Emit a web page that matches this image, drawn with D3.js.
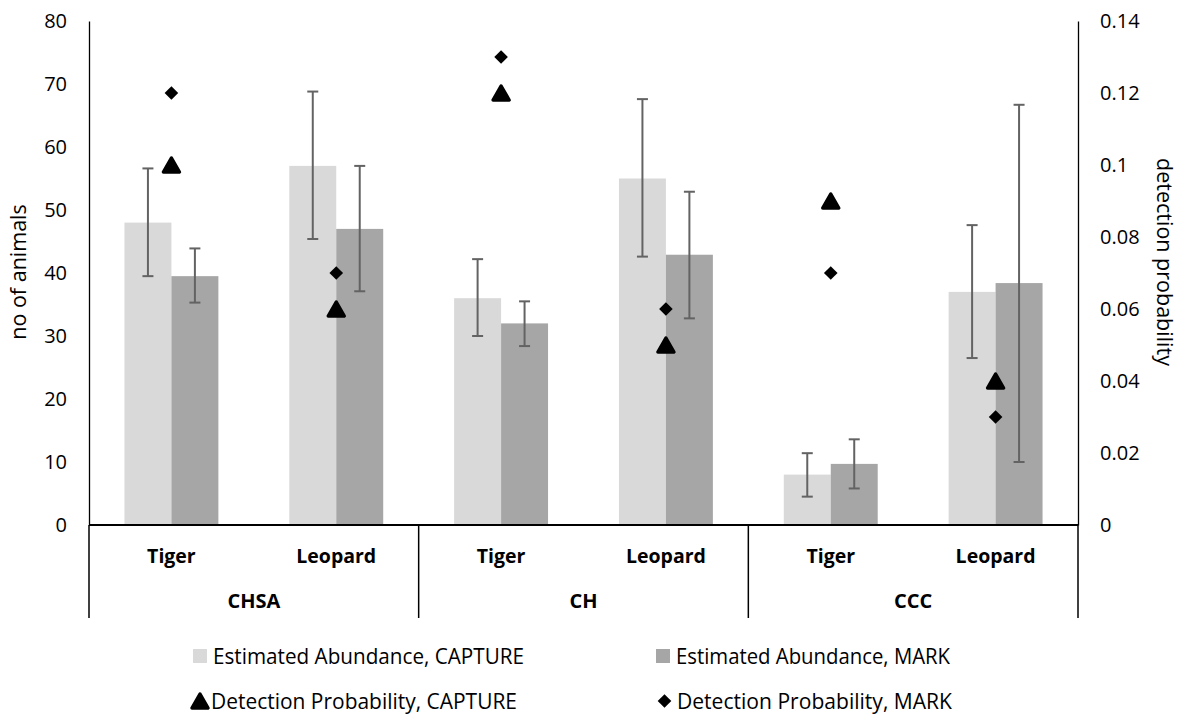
<!DOCTYPE html>
<html>
<head>
<meta charset="utf-8">
<script src="https://cdn.jsdelivr.net/npm/d3@7"></script>
<style>
  body { margin: 0; background: #fff; }
  svg text { font-family: "Open Sans", sans-serif; fill: #000; }
</style>
</head>
<body>
<div id="container"></div>
<script>
// Data
const groups = ["CHSA", "CH", "CCC"];
const species = ["Tiger", "Leopard"];
const series = ["CAPTURE", "MARK"];

// estimated abundance, order: CHSA Tiger, CHSA Leopard, CH Tiger, CH Leopard, CCC Tiger, CCC Leopard
const abundCapture = [48, 57, 36, 55, 8, 37];
const abundCaptureLo = [39.5, 45.4, 30, 42.6, 4.5, 26.5];
const abundCaptureHi = [56.6, 68.8, 42.2, 67.6, 11.4, 47.6];
const abundMark = [39.5, 47, 32, 42.9, 9.7, 38.4];
const abundMarkLo = [35.3, 37.1, 28.4, 32.8, 5.8, 10];
const abundMarkHi = [43.9, 57, 35.5, 52.9, 13.6, 66.7];

// detection probability
const detCapture = [0.10, 0.06, 0.12, 0.05, 0.09, 0.04];
const detMark = [0.12, 0.07, 0.13, 0.06, 0.07, 0.03];

const leftTicks = [0, 10, 20, 30, 40, 50, 60, 70, 80];
const rightTicks = [0, 0.02, 0.04, 0.06, 0.08, 0.1, 0.12, 0.14];

const W = 1183, H = 715;
const plotLeft = 89, plotRight = 1078, plotTop = 21, base = 525, boxBottom = 618;

const svg = d3.select("#container").append("svg")
  .attr("width", W)
  .attr("height", H);

// scales
const x0 = d3.scaleBand().domain(groups).range([plotLeft, plotRight]);
const x1 = d3.scaleBand().domain(species).range([0, x0.bandwidth()]);
const x2 = d3.scaleBand().domain(series).range([0, x1.bandwidth()]).paddingOuter(0.755);
const y = d3.scaleLinear().domain([0, 80]).range([base, plotTop]);
const yR = d3.scaleLinear().domain([0, 0.14]).range([base, plotTop]);

// flatten into rows
const rows = [];
groups.forEach((g, gi) => species.forEach((s, si) => {
  const i = gi * 2 + si;
  rows.push({
    g, s,
    cx: x0(g) + x1(s) + x1.bandwidth() / 2,
    bars: [
      { k: "CAPTURE", v: abundCapture[i], lo: abundCaptureLo[i], hi: abundCaptureHi[i] },
      { k: "MARK", v: abundMark[i], lo: abundMarkLo[i], hi: abundMarkHi[i] }
    ],
    pc: detCapture[i],
    pm: detMark[i]
  });
}));

const color = { CAPTURE: "#d9d9d9", MARK: "#a6a6a6" };

// bars
const cell = svg.append("g").selectAll("g")
  .data(rows)
  .join("g")
  .attr("transform", d => `translate(${x0(d.g) + x1(d.s)},0)`);

cell.selectAll("rect")
  .data(d => d.bars)
  .join("rect")
  .attr("x", b => x2(b.k))
  .attr("width", x2.bandwidth())
  .attr("y", b => y(b.v))
  .attr("height", b => base - y(b.v))
  .attr("fill", b => color[b.k]);

// error bars
const err = cell.selectAll("g.err")
  .data(d => d.bars)
  .join("g")
  .attr("class", "err")
  .attr("stroke", "#636363")
  .attr("stroke-width", 2);

const bx = b => x2(b.k) + x2.bandwidth() / 2;
err.append("line")
  .attr("x1", bx).attr("x2", bx)
  .attr("y1", b => y(b.lo)).attr("y2", b => y(b.hi));
err.append("line")
  .attr("x1", b => bx(b) - 5.5).attr("x2", b => bx(b) + 5.5)
  .attr("y1", b => y(b.lo)).attr("y2", b => y(b.lo));
err.append("line")
  .attr("x1", b => bx(b) - 5.5).attr("x2", b => bx(b) + 5.5)
  .attr("y1", b => y(b.hi)).attr("y2", b => y(b.hi));

// marker shapes
function triangle(cx, cy) {
  const w = 8, h = 7;
  return `M${cx},${cy - h}L${cx + w},${cy + h}L${cx - w},${cy + h}Z`;
}
function diamond(cx, cy) {
  const r = 6.8;
  return `M${cx},${cy - r}L${cx + r},${cy}L${cx},${cy + r}L${cx - r},${cy}Z`;
}

svg.append("g").selectAll("path")
  .data(rows)
  .join("path")
  .attr("d", d => triangle(d.cx, yR(d.pc)))
  .attr("fill", "#000")
  .attr("stroke", "#000")
  .attr("stroke-width", 3.5)
  .attr("stroke-linejoin", "round");

svg.append("g").selectAll("path")
  .data(rows)
  .join("path")
  .attr("d", d => diamond(d.cx, yR(d.pm)))
  .attr("fill", "#000");

// axes
const axL = svg.append("g")
  .attr("transform", `translate(${plotLeft},0)`)
  .call(d3.axisLeft(y).tickValues(leftTicks).tickSize(0).tickPadding(22));
const axR = svg.append("g")
  .attr("transform", `translate(${plotRight},0)`)
  .call(d3.axisRight(yR).tickValues(rightTicks).tickSize(0).tickPadding(22)
    .tickFormat(d => d === 0 ? "0" : String(+d.toFixed(2))));
[axL, axR].forEach(ax => {
  ax.select(".domain").attr("stroke", "#000").attr("stroke-width", 1.3);
  ax.selectAll("text").attr("font-size", 20).attr("font-family", "Open Sans, sans-serif").attr("fill", "#000");
});

// category box under the plot
const box = svg.append("g").attr("stroke", "#000").attr("stroke-width", 1.5);
box.append("line").attr("x1", plotLeft).attr("x2", plotRight).attr("y1", base).attr("y2", base)
  .attr("stroke-width", 2);
box.selectAll("line.sep")
  .data(groups.map(g => x0(g)).concat([plotRight]))
  .join("line")
  .attr("class", "sep")
  .attr("x1", d => d).attr("x2", d => d)
  .attr("y1", base).attr("y2", boxBottom);

svg.append("g").selectAll("text")
  .data(rows)
  .join("text")
  .attr("x", d => d.cx)
  .attr("y", 563)
  .attr("text-anchor", "middle")
  .attr("font-size", 19.5)
  .attr("font-weight", "bold")
  .text(d => d.s);

svg.append("g").selectAll("text")
  .data(groups)
  .join("text")
  .attr("x", g => x0(g) + x0.bandwidth() / 2)
  .attr("y", 608)
  .attr("text-anchor", "middle")
  .attr("font-size", 20)
  .attr("font-weight", "bold")
  .text(g => g);

// axis titles
svg.append("text")
  .attr("transform", `translate(26,272) rotate(-90)`)
  .attr("text-anchor", "middle")
  .attr("font-size", 21.5)
  .text("no of animals");
svg.append("text")
  .attr("transform", `translate(1157,262) rotate(90)`)
  .attr("text-anchor", "middle")
  .attr("font-size", 21.5)
  .text("detection probability");

// legend
const legend = [
  { label: "Estimated Abundance, CAPTURE", type: "rect", fill: color.CAPTURE, x: 193, y: 656, len: 311 },
  { label: "Estimated Abundance, MARK", type: "rect", fill: color.MARK, x: 656, y: 656, len: 274 },
  { label: "Detection Probability, CAPTURE", type: "tri", x: 191, y: 701, len: 306 },
  { label: "Detection Probability, MARK", type: "dia", x: 657, y: 701, len: 275 }
];
const lg = svg.append("g").selectAll("g")
  .data(legend)
  .join("g");
lg.filter(d => d.type === "rect").append("rect")
  .attr("x", d => d.x).attr("y", d => d.y - 7)
  .attr("width", 14).attr("height", 14)
  .attr("fill", d => d.fill);
lg.filter(d => d.type === "tri").append("path")
  .attr("d", d => triangle(d.x + 9, d.y))
  .attr("fill", "#000").attr("stroke", "#000")
  .attr("stroke-width", 3.5).attr("stroke-linejoin", "round");
lg.filter(d => d.type === "dia").append("path")
  .attr("d", d => diamond(d.x + 7.5, d.y))
  .attr("fill", "#000");
lg.append("text")
  .attr("x", d => d.x + 20)
  .attr("y", d => d.y + 7.5)
  .attr("font-size", 21)
  .attr("textLength", d => d.len)
  .attr("lengthAdjust", "spacingAndGlyphs")
  .text(d => d.label);
</script>
</body>
</html>
